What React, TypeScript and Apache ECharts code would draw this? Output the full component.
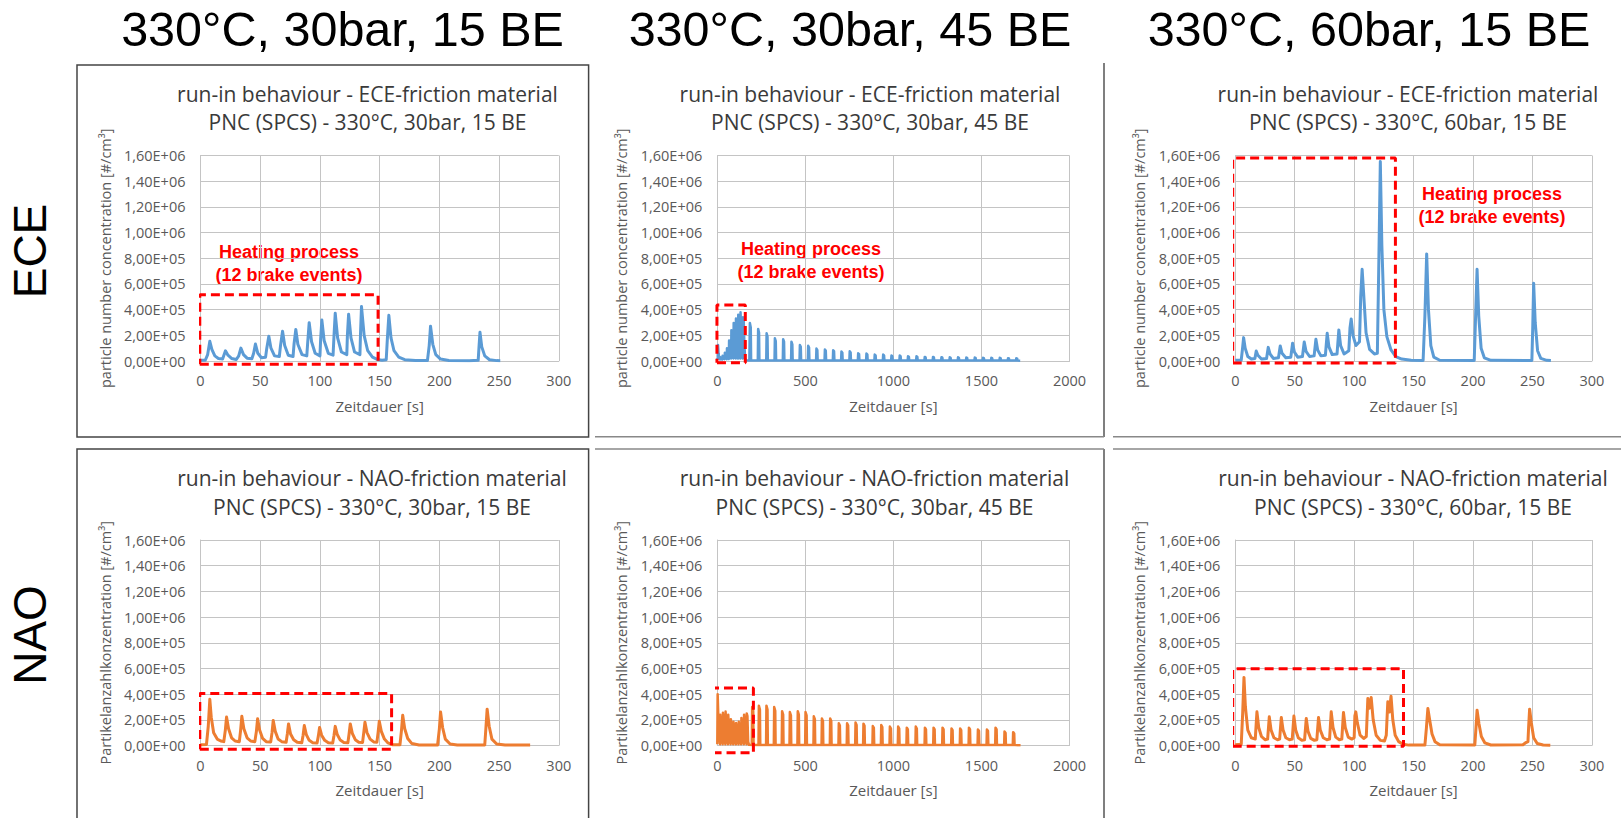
import React, { useEffect, useRef } from 'react';
import * as echarts from 'echarts';

// ---------------- texts ----------------
const columnHeaders = ['330°C, 30bar, 15 BE', '330°C, 30bar, 45 BE', '330°C, 60bar, 15 BE'];
const rowLabels = ['ECE', 'NAO'];
const titleLine1 = ['run-in behaviour - ECE-friction material', 'run-in behaviour - NAO-friction material'];
const titleLine2 = ['PNC (SPCS) - 330°C, 30bar, 15 BE', 'PNC (SPCS) - 330°C, 30bar, 45 BE', 'PNC (SPCS) - 330°C, 60bar, 15 BE'];
const yNames = ['particle number concentration [#/cm³]', 'Partikelanzahlkonzentration [#/cm³]'];
const xName = 'Zeitdauer [s]';
const annotationLines = ['Heating process', '(12 brake events)'];
const yTickLabels = ['0,00E+00', '2,00E+05', '4,00E+05', '6,00E+05', '8,00E+05', '1,00E+06', '1,20E+06', '1,40E+06', '1,60E+06'];

// ---------------- data: [time s, PNC #/cm³] ----------------
const ece30_15: number[][] = [
  [0, 0.05e5], [4, 0.06e5], [6, 0.5e5], [7.8, 1.53e5], [9.5, 0.9e5], [12, 0.4e5], [15, 0.2e5], [18.5, 0.15e5],
  [20.9, 0.79e5], [23, 0.45e5], [26, 0.2e5], [30, 0.12e5],
  [32, 0.4e5], [33.8, 1.0e5], [36, 0.5e5], [39, 0.22e5], [43, 0.18e5],
  [44.5, 0.6e5], [46, 1.32e5], [48, 0.6e5], [51, 0.25e5], [54.5, 0.3e5],
  [55.5, 1.0e5], [57.2, 1.92e5], [59, 1.0e5], [62, 0.4e5], [66, 0.35e5],
  [67, 1.2e5], [68.7, 2.32e5], [70.5, 1.2e5], [73.5, 0.45e5], [77.5, 0.35e5],
  [78.3, 1.3e5], [79.8, 2.45e5], [81.5, 1.3e5], [85, 0.5e5], [89, 0.4e5],
  [89.8, 1.5e5], [91, 2.98e5], [93, 1.5e5], [96, 0.6e5], [100, 0.4e5],
  [100.6, 1.7e5], [101.6, 3.19e5], [103.5, 1.6e5], [107, 0.6e5], [111, 0.45e5],
  [111.8, 2.0e5], [112.8, 3.72e5], [114.8, 1.8e5], [118, 0.7e5], [122.5, 0.5e5],
  [123, 2.0e5], [124, 3.64e5], [126, 1.8e5], [129, 0.7e5], [133.5, 0.5e5],
  [134, 2.2e5], [134.8, 4.24e5], [137, 2.0e5], [140, 0.8e5], [144, 0.3e5], [148, 0.12e5], [152, 0.06e5], [155.5, 0.1e5],
  [156.5, 1.8e5], [157.7, 3.56e5], [159.5, 1.8e5], [162, 0.8e5], [166, 0.3e5], [171, 0.1e5], [180, 0.03e5], [190, 0.03e5],
  [191.5, 1.2e5], [192.6, 2.71e5], [194.5, 1.3e5], [197, 0.5e5], [201, 0.15e5], [208, 0.04e5], [225, 0.02e5], [232.5, 0.05e5],
  [233.2, 1.1e5], [234, 2.24e5], [235.5, 1.1e5], [238, 0.4e5], [242, 0.1e5], [248, 0.03e5], [251, 0.02e5],
];

const ece30_45: number[][] = [
  [0, 0.1e5], [2.5, 0.3e5], [4, 1.25e5], [7, 0.6e5], [11, 0.25e5], [15.5, 0.12e5],
  [17, 0.3e5], [21, 0.15e5], [28.5, 0.12e5],
  [30, 0.4e5], [34, 0.2e5], [41.5, 0.15e5],
  [43, 0.65e5], [47, 0.3e5], [53.5, 0.15e5],
  [55, 1.0e5], [59, 0.5e5], [65.5, 0.15e5],
  [67, 1.6e5], [71, 0.8e5], [78.5, 0.2e5],
  [80, 2.4e5], [84, 1.2e5], [91.5, 0.2e5],
  [93, 2.95e5], [97, 1.5e5], [104.5, 0.2e5],
  [106, 3.3e5], [110, 1.7e5], [117.5, 0.2e5],
  [119, 3.6e5], [123, 1.8e5], [130.5, 0.2e5],
  [132, 3.8e5], [136, 1.9e5], [144.5, 0.2e5],
  [146, 3.4e5], [150, 3.1e5], [154, 1.2e5], [158, 0.2e5], [165, 0.05e5], [182, 0.03e5],
  [183, 0.03e5], [185, 2.95e5], [190, 2.6e5], [192, 0.03e5],
  [230, 0.03e5], [232, 2.5e5], [237, 2.2e5], [239, 0.03e5],
  [278, 0.03e5], [280, 2.16e5], [285, 1.9e5], [287, 0.03e5],
  [325, 0.03e5], [327, 1.77e5], [332, 1.55e5], [334, 0.03e5],
  [372, 0.03e5], [374, 1.69e5], [379, 1.5e5], [381, 0.03e5],
  [419, 0.03e5], [421, 1.5e5], [426, 1.3e5], [428, 0.03e5],
  [467, 0.03e5], [469, 1.24e5], [474, 1.1e5], [476, 0.03e5],
  [514, 0.03e5], [516, 1.19e5], [521, 1.05e5], [523, 0.03e5],
  [561, 0.03e5], [563, 0.97e5], [568, 0.85e5], [570, 0.03e5],
  [609, 0.03e5], [611, 0.9e5], [616, 0.8e5], [618, 0.03e5],
  [656, 0.03e5], [658, 0.84e5], [663, 0.75e5], [665, 0.03e5],
  [703, 0.03e5], [705, 0.74e5], [710, 0.65e5], [712, 0.03e5],
  [750, 0.03e5], [752, 0.76e5], [757, 0.67e5], [759, 0.03e5],
  [798, 0.03e5], [800, 0.6e5], [805, 0.53e5], [807, 0.03e5],
  [845, 0.03e5], [847, 0.58e5], [852, 0.5e5], [854, 0.03e5],
  [892, 0.03e5], [894, 0.5e5], [899, 0.44e5], [901, 0.03e5],
  [940, 0.03e5], [942, 0.5e5], [947, 0.44e5], [949, 0.03e5],
  [987, 0.03e5], [989, 0.42e5], [994, 0.37e5], [996, 0.03e5],
  [1034, 0.03e5], [1036, 0.42e5], [1041, 0.37e5], [1043, 0.03e5],
  [1081, 0.03e5], [1083, 0.37e5], [1088, 0.33e5], [1090, 0.03e5],
  [1129, 0.03e5], [1131, 0.37e5], [1136, 0.33e5], [1138, 0.03e5],
  [1176, 0.03e5], [1178, 0.32e5], [1183, 0.28e5], [1185, 0.03e5],
  [1223, 0.03e5], [1225, 0.32e5], [1230, 0.28e5], [1232, 0.03e5],
  [1271, 0.03e5], [1273, 0.3e5], [1278, 0.26e5], [1280, 0.03e5],
  [1318, 0.03e5], [1320, 0.29e5], [1325, 0.25e5], [1327, 0.03e5],
  [1365, 0.03e5], [1367, 0.29e5], [1372, 0.25e5], [1374, 0.03e5],
  [1412, 0.03e5], [1414, 0.27e5], [1419, 0.24e5], [1421, 0.03e5],
  [1460, 0.03e5], [1462, 0.27e5], [1467, 0.24e5], [1469, 0.03e5],
  [1507, 0.03e5], [1509, 0.25e5], [1514, 0.22e5], [1516, 0.03e5],
  [1554, 0.03e5], [1556, 0.25e5], [1561, 0.22e5], [1563, 0.03e5],
  [1602, 0.03e5], [1604, 0.25e5], [1609, 0.22e5], [1611, 0.03e5],
  [1649, 0.03e5], [1651, 0.22e5], [1656, 0.2e5], [1658, 0.03e5],
  [1696, 0.03e5], [1698, 0.21e5], [1703, 0.18e5], [1705, 0.03e5],
  [1720, 0.02e5],
];

const ece60_15: number[][] = [
  [0, 0.05e5], [5, 0.08e5], [6, 0.9e5], [7, 1.82e5], [8.3, 1.0e5], [10.5, 0.35e5], [13.5, 0.15e5], [16.5, 0.2e5],
  [17.6, 0.78e5], [19, 0.45e5], [22, 0.15e5], [26.3, 0.2e5],
  [27.7, 1.06e5], [29.2, 0.55e5], [32, 0.2e5], [36.3, 0.25e5],
  [37.8, 1.17e5], [39.3, 0.6e5], [42.5, 0.25e5], [46.7, 0.3e5],
  [48.2, 1.38e5], [49.7, 0.7e5], [52.5, 0.3e5], [56.5, 0.35e5],
  [58, 1.48e5], [59.5, 0.75e5], [62.5, 0.35e5], [66.3, 0.4e5],
  [67.8, 1.69e5], [69.3, 0.85e5], [72, 0.4e5], [75.8, 0.45e5],
  [77.3, 2.16e5], [78.8, 1.1e5], [81.5, 0.5e5], [85.6, 0.55e5],
  [87.1, 2.42e5], [88.6, 1.2e5], [91.5, 0.55e5], [95.5, 0.8e5],
  [96.5, 2.6e5], [97.5, 3.27e5], [99, 2.0e5], [101.5, 1.2e5], [104.5, 1.5e5],
  [105.5, 5.0e5], [106.7, 7.14e5], [108, 5.2e5], [110, 2.2e5], [113, 0.9e5], [117, 0.55e5], [119.5, 0.6e5],
  [120.8, 8.0e5], [122, 15.53e5], [123.3, 9.0e5], [125, 4.0e5], [127.5, 1.9e5], [131, 0.86e5], [135, 0.34e5], [140, 0.15e5], [148, 0.06e5], [158, 0.04e5],
  [159.5, 3.5e5], [161, 8.34e5], [162.5, 4.0e5], [164.5, 1.2e5], [167, 0.3e5], [172, 0.06e5], [201, 0.04e5],
  [202, 3.0e5], [203.4, 7.14e5], [204.8, 3.5e5], [206.8, 1.0e5], [209.5, 0.25e5], [215, 0.05e5], [249.5, 0.04e5],
  [250.2, 2.5e5], [251, 6.05e5], [252.3, 3.0e5], [254.3, 0.8e5], [257, 0.2e5], [262, 0.05e5], [265.5, 0.03e5],
];

const nao30_15: number[][] = [
  [0, 0.05e5], [5, 0.08e5], [6.5, 1.5e5], [7.8, 3.6e5], [9, 2.2e5], [11, 1.0e5], [14, 0.5e5], [17, 0.35e5], [19.5, 0.3e5],
  [20.8, 1.2e5], [21.8, 2.21e5], [23.5, 1.3e5], [26, 0.6e5], [29, 0.35e5], [32.5, 0.3e5],
  [33.6, 1.2e5], [34.6, 2.27e5], [36.3, 1.3e5], [39, 0.6e5], [42, 0.35e5], [45.5, 0.3e5],
  [46.8, 1.1e5], [47.8, 2.08e5], [49.5, 1.2e5], [52, 0.55e5], [55, 0.3e5], [58.8, 0.28e5],
  [59.9, 1.0e5], [60.9, 1.95e5], [62.6, 1.1e5], [65, 0.5e5], [68, 0.3e5], [71.7, 0.25e5],
  [72.7, 0.9e5], [73.7, 1.68e5], [75.4, 0.9e5], [78, 0.45e5], [81, 0.25e5], [84.8, 0.22e5],
  [85.9, 0.8e5], [86.9, 1.55e5], [88.6, 0.85e5], [91, 0.4e5], [94, 0.22e5], [97.6, 0.2e5],
  [98.7, 0.75e5], [99.7, 1.41e5], [101.4, 0.8e5], [104, 0.4e5], [107, 0.22e5], [110.7, 0.2e5],
  [111.8, 0.8e5], [112.8, 1.49e5], [114.5, 0.85e5], [117, 0.42e5], [120, 0.24e5], [123.4, 0.22e5],
  [124.4, 0.9e5], [125.4, 1.68e5], [127.1, 0.95e5], [129.6, 0.45e5], [132.5, 0.26e5], [135.7, 0.24e5],
  [136.7, 1.0e5], [137.7, 1.81e5], [139.4, 1.0e5], [142, 0.5e5], [145, 0.28e5], [147.7, 0.26e5],
  [148.7, 1.0e5], [149.7, 1.89e5], [151.4, 1.1e5], [154, 0.5e5], [157, 0.2e5], [161, 0.06e5], [167, 0.05e5],
  [168.3, 1.2e5], [169.3, 2.35e5], [171, 1.3e5], [173.5, 0.55e5], [177, 0.15e5], [183, 0.04e5], [198.5, 0.04e5],
  [200, 1.3e5], [201, 2.61e5], [202.7, 1.4e5], [205, 0.5e5], [209, 0.12e5], [215, 0.04e5], [238, 0.04e5],
  [239, 1.4e5], [240, 2.83e5], [241.7, 1.5e5], [244, 0.5e5], [248, 0.12e5], [255, 0.04e5], [276, 0.03e5],
];

const nao30_45: number[][] = [
  [0, 0.1e5], [2, 4.0e5], [5, 2.6e5], [10, 1.0e5], [15.5, 0.1e5],
  [17, 2.4e5], [21, 1.5e5], [26, 0.6e5], [30.5, 0.1e5],
  [32, 2.55e5], [36, 1.6e5], [41, 0.6e5], [45.5, 0.1e5],
  [47, 2.65e5], [51, 1.7e5], [56, 0.6e5], [60.5, 0.1e5],
  [62, 2.4e5], [66, 1.5e5], [71, 0.6e5], [75.5, 0.1e5],
  [77, 2.05e5], [81, 1.3e5], [86, 0.5e5], [90.5, 0.1e5],
  [92, 1.85e5], [96, 1.2e5], [101, 0.5e5], [105.5, 0.1e5],
  [107, 1.75e5], [111, 1.1e5], [116, 0.5e5], [120.5, 0.1e5],
  [122, 1.85e5], [126, 1.2e5], [131, 0.5e5], [135.5, 0.1e5],
  [137, 2.15e5], [141, 1.4e5], [146, 0.6e5], [150.5, 0.1e5],
  [152, 2.4e5], [156, 1.5e5], [161, 0.6e5], [165.5, 0.1e5],
  [167, 2.5e5], [171, 2.3e5], [175, 0.3e5], [180, 0.05e5],
  [196, 0.03e5], [198, 3.0e5], [204, 2.7e5], [206, 0.03e5],
  [234, 0.03e5], [236, 3.1e5], [242, 2.8e5], [244, 0.03e5],
  [277, 0.03e5], [279, 3.1e5], [285, 2.8e5], [287, 0.03e5],
  [321, 0.03e5], [323, 3.0e5], [329, 2.7e5], [331, 0.03e5],
  [366, 0.03e5], [368, 2.67e5], [374, 2.4e5], [376, 0.03e5],
  [410, 0.03e5], [412, 2.6e5], [418, 2.35e5], [420, 0.03e5],
  [455, 0.03e5], [457, 2.67e5], [463, 2.4e5], [465, 0.03e5],
  [499, 0.03e5], [501, 2.6e5], [507, 2.35e5], [509, 0.03e5],
  [546, 0.03e5], [548, 2.27e5], [554, 2.05e5], [556, 0.03e5],
  [592, 0.03e5], [594, 2.1e5], [600, 1.9e5], [602, 0.03e5],
  [639, 0.03e5], [641, 2.1e5], [647, 1.9e5], [649, 0.03e5],
  [688, 0.03e5], [690, 1.73e5], [696, 1.55e5], [698, 0.03e5],
  [735, 0.03e5], [737, 1.73e5], [743, 1.55e5], [745, 0.03e5],
  [783, 0.03e5], [785, 1.79e5], [791, 1.6e5], [793, 0.03e5],
  [828, 0.03e5], [830, 1.7e5], [836, 1.53e5], [838, 0.03e5],
  [881, 0.03e5], [883, 1.52e5], [889, 1.37e5], [891, 0.03e5],
  [929, 0.03e5], [931, 1.6e5], [937, 1.44e5], [939, 0.03e5],
  [978, 0.03e5], [980, 1.47e5], [986, 1.32e5], [988, 0.03e5],
  [1025, 0.03e5], [1027, 1.47e5], [1033, 1.32e5], [1035, 0.03e5],
  [1074, 0.03e5], [1076, 1.39e5], [1082, 1.25e5], [1084, 0.03e5],
  [1125, 0.03e5], [1127, 1.47e5], [1133, 1.32e5], [1135, 0.03e5],
  [1177, 0.03e5], [1179, 1.39e5], [1185, 1.25e5], [1187, 0.03e5],
  [1226, 0.03e5], [1228, 1.39e5], [1234, 1.25e5], [1236, 0.03e5],
  [1277, 0.03e5], [1279, 1.39e5], [1285, 1.25e5], [1287, 0.03e5],
  [1328, 0.03e5], [1330, 1.33e5], [1336, 1.2e5], [1338, 0.03e5],
  [1377, 0.03e5], [1379, 1.33e5], [1385, 1.2e5], [1387, 0.03e5],
  [1427, 0.03e5], [1429, 1.39e5], [1435, 1.25e5], [1437, 0.03e5],
  [1478, 0.03e5], [1480, 1.25e5], [1486, 1.13e5], [1488, 0.03e5],
  [1529, 0.03e5], [1531, 1.25e5], [1537, 1.13e5], [1539, 0.03e5],
  [1578, 0.03e5], [1580, 1.39e5], [1586, 1.25e5], [1588, 0.03e5],
  [1629, 0.03e5], [1631, 1.09e5], [1637, 0.98e5], [1639, 0.03e5],
  [1678, 0.03e5], [1680, 1.04e5], [1686, 0.94e5], [1688, 0.03e5],
  [1722, 0.02e5],
];

const nao60_15: number[][] = [
  [0, 0.05e5], [5, 0.1e5], [6.2, 2.5e5], [7.3, 5.3e5], [8.5, 3.0e5], [10.5, 1.2e5], [13.5, 0.6e5], [16.8, 0.5e5],
  [18.2, 2.62e5], [19.7, 1.4e5], [22, 0.7e5], [25, 0.45e5], [27.2, 0.5e5],
  [28.6, 2.23e5], [30.1, 1.2e5], [32.5, 0.6e5], [35.5, 0.45e5], [37.3, 0.5e5],
  [38.7, 2.18e5], [40.2, 1.2e5], [42.5, 0.6e5], [45.5, 0.45e5], [47.9, 0.5e5],
  [49.3, 2.29e5], [50.8, 1.2e5], [53, 0.6e5], [56, 0.4e5], [58.3, 0.45e5],
  [59.7, 2.1e5], [61.2, 1.1e5], [63.5, 0.55e5], [66.5, 0.4e5], [68.6, 0.45e5],
  [70, 2.18e5], [71.5, 1.2e5], [74, 0.6e5], [77, 0.45e5], [79.3, 0.5e5],
  [80.7, 2.62e5], [82.2, 1.4e5], [84.5, 0.65e5], [87.5, 0.45e5], [89.6, 0.5e5],
  [91, 2.57e5], [92.5, 1.4e5], [95, 0.65e5], [98, 0.5e5], [100, 0.6e5],
  [100.6, 2.3e5], [101.4, 2.62e5], [102.6, 1.8e5], [105, 0.8e5], [108, 0.55e5], [110.2, 0.7e5],
  [111.5, 3.66e5], [112.8, 2.9e5], [114.3, 3.74e5], [116, 2.0e5], [118.5, 0.8e5], [122, 0.4e5], [125.5, 0.35e5], [127, 0.8e5],
  [128.3, 3.4e5], [129.6, 2.6e5], [131, 3.84e5], [132.5, 2.0e5], [134.5, 0.8e5], [137.5, 0.3e5], [141, 0.1e5], [146, 0.03e5], [159.5, 0.03e5],
  [160.8, 1.4e5], [162, 2.88e5], [163.5, 2.0e5], [165.5, 0.9e5], [168, 0.3e5], [172, 0.06e5], [201.5, 0.04e5],
  [202.5, 1.4e5], [203.4, 2.75e5], [205, 1.7e5], [207, 0.7e5], [210, 0.2e5], [215, 0.04e5], [242, 0.06e5], [244, 0.2e5], [246.2, 0.3e5],
  [246.8, 1.5e5], [247.6, 2.83e5], [249, 1.8e5], [251, 0.6e5], [254, 0.15e5], [259, 0.04e5], [265, 0.02e5],
];

// red dashed "heating process" frames: [xStart, xEnd, yBottom, yTop]
const heatBoxes: number[][] = [
  [-0.6, 148.7, -0.26e5, 5.15e5],
  [-2, 159, -0.13e5, 4.36e5],
  [-2.2, 134.7, -0.16e5, 1.58e6],
  [-0.6, 160, -0.3e5, 4.05e5],
  [-27, 205, -0.57e5, 4.47e5],
  [-2.2, 141.5, -0.05e5, 5.97e5],
];

// ---------------- layout & style ----------------
const BLUE = '#5b9bd5';
const ORANGE = '#ed7d31';
const RED = '#ff0000';
const GRID_C = '#c4c4c4';
const TXT = '#595959';
const FONT = '"Open Sans", "DejaVu Sans", sans-serif';

const colLeft = [200.5, 717.3, 1235.3];
const colWidth = [358.3, 352.2, 356.6];
const rowTop = [155.5, 540];
const plotH = 205.5;

const panels = [
  { row: 0, col: 0, data: ece30_15, color: BLUE, xMax: 300, xInt: 50, lw: 3 },
  { row: 0, col: 1, data: ece30_45, color: BLUE, xMax: 2000, xInt: 500, lw: 2.5 },
  { row: 0, col: 2, data: ece60_15, color: BLUE, xMax: 300, xInt: 50, lw: 3 },
  { row: 1, col: 0, data: nao30_15, color: ORANGE, xMax: 300, xInt: 50, lw: 3 },
  { row: 1, col: 1, data: nao30_45, color: ORANGE, xMax: 2000, xInt: 500, lw: 2.5 },
  { row: 1, col: 2, data: nao60_15, color: ORANGE, xMax: 300, xInt: 50, lw: 3 },
];

const titleCX = [[367.5, 870, 1408], [372, 874.5, 1413]];
const titleY = [[93.5, 122], [477.5, 507]];
const annot = [
  { x: 289, y1: 252, y2: 275 },
  { x: 811, y1: 249, y2: 272 },
  { x: 1492, y1: 194, y2: 217 },
];

function txt(text: string, x: number, y: number, font: string, fill: string, rotation = 0) {
  return {
    type: 'text',
    x, y, rotation,
    silent: true,
    style: {
      text, font, fill,
      align: 'center', verticalAlign: 'middle',
      textAlign: 'center', textVerticalAlign: 'middle',
    },
  };
}
function ln(x1: number, y1: number, x2: number, y2: number, stroke: string) {
  return { type: 'line', silent: true, shape: { x1, y1, x2, y2 }, style: { stroke, lineWidth: 1.5 } };
}

export default function App() {
  const ref = useRef<HTMLDivElement>(null);
  useEffect(() => {
    if (!ref.current) return;
    const chart = echarts.init(ref.current, undefined, { renderer: 'svg' });

    const grids = panels.map((p) => ({
      left: colLeft[p.col], top: rowTop[p.row], width: colWidth[p.col], height: plotH,
      containLabel: false, outerBoundsMode: 'none',
    }));
    const xAxes = panels.map((p, i) => ({
      gridIndex: i, type: 'value', min: 0, max: p.xMax, interval: p.xInt,
      axisLine: { show: true, lineStyle: { color: GRID_C, width: 1 } },
      axisTick: { show: false },
      splitLine: { show: true, lineStyle: { color: GRID_C, width: 1 } },
      axisLabel: { fontFamily: FONT, fontSize: 14.5, color: TXT, margin: 12, formatter: (v: number) => String(v) },
      name: xName, nameLocation: 'middle', nameGap: 37,
      nameTextStyle: { fontFamily: FONT, fontSize: 15, color: TXT },
    }));
    const yAxes = panels.map((p, i) => ({
      gridIndex: i, type: 'value', min: 0, max: 1.6e6, interval: 2e5,
      axisLine: { show: true, lineStyle: { color: GRID_C, width: 1 } },
      axisTick: { show: false },
      splitLine: { show: true, lineStyle: { color: GRID_C, width: 1 } },
      axisLabel: {
        fontFamily: FONT, fontSize: 14.5, color: TXT, margin: 15,
        formatter: (v: number) => yTickLabels[Math.round(v / 2e5)] ?? '',
      },
      name: yNames[p.row], nameLocation: 'middle', nameGap: 88, nameRotate: 90,
      nameTextStyle: { fontFamily: FONT, fontSize: 14.5, color: TXT },
    }));

    const series: any[] = [];
    panels.forEach((p, i) => {
      series.push({
        type: 'line', xAxisIndex: i, yAxisIndex: i, data: p.data,
        symbol: 'none', showSymbol: false, silent: true, z: 2,
        lineStyle: { color: p.color, width: p.lw, join: 'round' },
        itemStyle: { color: p.color },
      });
      const b = heatBoxes[i];
      series.push({
        type: 'line', xAxisIndex: i, yAxisIndex: i, clip: false, silent: true, z: 4,
        symbol: 'none', showSymbol: false,
        data: [[b[0], b[2]], [b[1], b[2]], [b[1], b[3]], [b[0], b[3]], [b[0], b[2]]],
        lineStyle: { color: RED, width: 3, type: [9, 5] },
        itemStyle: { color: RED },
      });
    });

    const graphics: any[] = [];
    const colCX = [342.5, 850, 1369];
    columnHeaders.forEach((h, c) => graphics.push(txt(h, colCX[c], 29, '48.5px "Liberation Sans", Arial, sans-serif', '#000')));
    graphics.push(txt(rowLabels[0], 30, 251, '46px "Liberation Sans", Arial, sans-serif', '#000', Math.PI / 2));
    graphics.push(txt(rowLabels[1], 30, 635, '46px "Liberation Sans", Arial, sans-serif', '#000', Math.PI / 2));
    panels.forEach((p) => {
      graphics.push(txt(titleLine1[p.row], titleCX[p.row][p.col], titleY[p.row][0], `21px ${FONT}`, '#3a3a3a'));
      graphics.push(txt(titleLine2[p.col], titleCX[p.row][p.col], titleY[p.row][1], `21px ${FONT}`, '#3a3a3a'));
    });
    annot.forEach((a) => {
      graphics.push(txt(annotationLines[0], a.x, a.y1, 'bold 18px "Liberation Sans", Arial, sans-serif', RED));
      graphics.push(txt(annotationLines[1], a.x, a.y2, 'bold 18px "Liberation Sans", Arial, sans-serif', RED));
    });
    graphics.push({ type: 'rect', silent: true, shape: { x: 77, y: 65, width: 511.6, height: 372 }, style: { fill: 'none', stroke: '#444', lineWidth: 1.5 } });
    graphics.push({ type: 'rect', silent: true, shape: { x: 77, y: 449, width: 511.6, height: 400 }, style: { fill: 'none', stroke: '#444', lineWidth: 1.5 } });
    graphics.push(ln(1104, 63, 1104, 437, '#555'));
    graphics.push(ln(1104, 449, 1104, 818, '#555'));
    graphics.push(ln(595, 436.7, 1104, 436.7, '#888'));
    graphics.push(ln(1113, 436.7, 1621, 436.7, '#888'));
    graphics.push(ln(595, 449, 1104, 449, '#888'));
    graphics.push(ln(1113, 449, 1621, 449, '#888'));

    chart.setOption({
      animation: false,
      backgroundColor: '#ffffff',
      grid: grids,
      xAxis: xAxes,
      yAxis: yAxes,
      series,
      graphic: { elements: graphics },
    });
    return () => chart.dispose();
  }, []);
  return <div ref={ref} style={{ position: 'fixed', left: 0, top: 0, width: 1621, height: 818 }} />;
}
